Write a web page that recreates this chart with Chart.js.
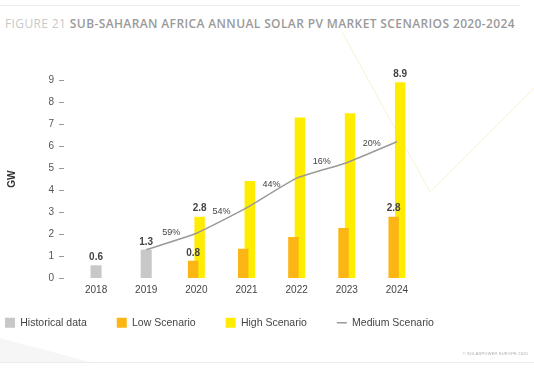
<!DOCTYPE html>
<html>
<head>
<meta charset="utf-8">
<script src="https://cdn.jsdelivr.net/npm/chart.js@4.4.1/dist/chart.umd.min.js"></script>
<style>
  body { margin: 0; background: #fff; width: 534px; height: 368px; overflow: hidden; position: relative; }
  #chart { position: absolute; left: 0; top: 0; }
  #deco { position: absolute; left: 0; top: 0; }
  .topline { position: absolute; left: 0; top: 5px; width: 520px; border-top: 1px solid #ececec; }
  .title { position: absolute; left: 5px; top: 15px; font: 600 12px "Open Sans", sans-serif; letter-spacing: 0.38px; color: #9a9a9a; white-space: nowrap; }
  .title span { color: #c9c9c9; font-weight: 400; }
  .bottomline { position: absolute; left: 0; top: 362px; width: 534px; border-top: 1px solid #ececec; }
  .credit { position: absolute; right: 6px; top: 351px; font: 4px "Liberation Sans", sans-serif; color: #aaa; letter-spacing: 0.2px; }
</style>
</head>
<body>
<svg id="deco" width="534" height="368">
  <polyline points="342,32 430,192 534,88" fill="none" stroke="#f8f4d2" stroke-width="1"/>
  <polygon points="0,338 0,362 90,362" fill="#f6f6f6"/>
</svg>
<div class="topline"></div>
<div class="title"><span>FIGURE 21</span> SUB-SAHARAN AFRICA ANNUAL SOLAR PV MARKET SCENARIOS 2020-2024</div>
<canvas id="chart" width="534" height="368"></canvas>
<div class="bottomline"></div>
<div class="credit">© SOLARPOWER EUROPE 2020</div>
<script>
const years = ["2018", "2019", "2020", "2021", "2022", "2023", "2024"];
const historical = [0.6, 1.3, null, null, null, null, null];
const lowScenario = [null, null, 0.8, 1.35, 1.88, 2.29, 2.8];
const highScenario = [null, null, 2.8, 4.42, 7.3, 7.49, 8.9];
const mediumScenario = [null, 1.3, 2.05, 3.2, 4.55, 5.25, 6.2];

// labels printed above some bars, and the growth rate printed on each line segment
const historicalTags = ["0.6", "1.3", null, null, null, null, null];
const lowTags = [null, null, "0.8", null, null, null, "2.8"];
const highTags = [null, null, "2.8", null, null, null, "8.9"];
const growthTags = [null, null, "59%", "54%", "44%", "16%", "20%"];

const yMin = 0, yMax = 9, yStep = 1;

const grey = "#c8c8c8";
const orange = "#fbb615";
const yellow = "#ffec00";
const lineGrey = "#9a9a9a";
const fontFamily = '"Liberation Sans", Arial, sans-serif';

const tagPlugin = {
    id: "tags",
    afterLayout(chart) {
        // pull the legend row up under the year labels
        chart.legend.top -= 13;
        chart.legend.bottom -= 13;
    },
    afterDatasetsDraw(chart) {
        const ctx = chart.ctx;
        ctx.save();
        ctx.textAlign = "center";
        ctx.fillStyle = "#444";
        ctx.font = "bold 10px " + fontFamily;
        ctx.textBaseline = "bottom";
        [[0, historicalTags], [1, lowTags], [2, highTags]].forEach(function (pair) {
            const meta = chart.getDatasetMeta(pair[0]);
            pair[1].forEach(function (t, i) {
                if (!t) return;
                const bar = meta.data[i];
                ctx.fillText(t, bar.x, bar.y - 3);
            });
        });
        ctx.font = "9px " + fontFamily;
        ctx.textBaseline = "middle";
        const pts = chart.getDatasetMeta(3).data;
        growthTags.forEach(function (t, i) {
            if (!t) return;
            const a = pts[i - 1], b = pts[i];
            ctx.fillText(t, (a.x + b.x) / 2, (a.y + b.y) / 2 - 9);
        });
        ctx.restore();
    },
};

Chart.defaults.font.family = fontFamily;

new Chart(document.getElementById("chart").getContext("2d"), {
    type: "bar",
    data: {
        labels: years,
        datasets: [
            {
                label: "Historical data",
                data: historical,
                backgroundColor: grey,
                grouped: false,
                categoryPercentage: 1,
                barPercentage: 0.22,
                pointStyle: "rect",
            },
            {
                label: "Low Scenario",
                data: lowScenario,
                backgroundColor: orange,
                categoryPercentage: 0.26,
                barPercentage: 1.6,
                pointStyle: "rect",
            },
            {
                label: "High Scenario",
                data: highScenario,
                backgroundColor: yellow,
                categoryPercentage: 0.26,
                barPercentage: 1.6,
                pointStyle: "rect",
            },
            {
                type: "line",
                label: "Medium Scenario",
                data: mediumScenario,
                borderColor: lineGrey,
                backgroundColor: lineGrey,
                borderWidth: 1.5,
                pointRadius: 0,
                tension: 0.15,
                order: -1,
                pointStyle: "line",
            },
        ],
    },
    options: {
        responsive: false,
        animation: false,
        layout: { padding: { left: -25, top: 80, right: 0, bottom: 17 } },
        plugins: {
            tooltip: { enabled: false },
            legend: {
                position: "bottom",
                align: "start",
                labels: {
                    usePointStyle: true,
                    pointStyleWidth: 10,
                    boxHeight: 10,
                    padding: 30,
                    color: "#444",
                    font: { size: 10.5 },
                    sort: function (a, b) { return a.datasetIndex - b.datasetIndex; },
                },
            },
        },
        scales: {
            x: {
                grid: { display: false, drawTicks: false },
                border: { display: false },
                ticks: { color: "#444", font: { size: 10 }, padding: 6 },
                afterFit: function (s) { s.height = 22; },
            },
            y: {
                min: yMin,
                max: yMax,
                border: { display: false },
                grid: {
                    drawOnChartArea: false,
                    tickLength: 12,
                    tickColor: "#999",
                    tickBorderDash: [5, 50],
                },
                ticks: { stepSize: yStep, color: "#555", font: { size: 10 }, padding: 5 },
                title: {
                    display: true,
                    text: "GW",
                    color: "#333",
                    font: { size: 10, weight: "bold" },
                    padding: { top: 31 },
                },
                afterFit: function (s) { s.width = 96; },
            },
            spacer: {
                position: "right",
                grid: { display: false },
                border: { display: false },
                ticks: { display: false },
                afterFit: function (s) { s.width = 112; },
            },
        },
    },
    plugins: [tagPlugin],
});
</script>
</body>
</html>
